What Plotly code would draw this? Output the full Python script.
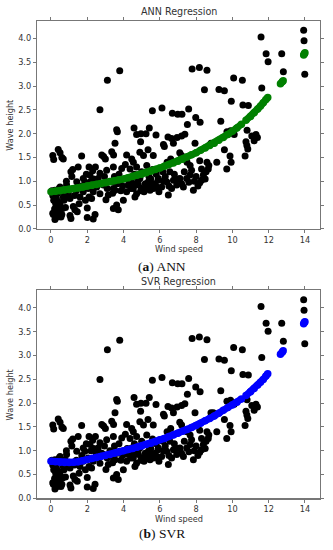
import plotly.graph_objects as go

# ---- observed data (wind speed, wave height) ----
wind_speed = [
    2.70, 3.11, 3.79, 3.62, 4.58, 4.72, 4.96, 5.24, 5.42, 5.79, 5.59, 6.12, 6.69, 6.99, 7.22, 7.59, 7.52, 7.98, 8.22,
    7.78, 8.18, 8.60, 8.46, 9.26, 9.56, 9.36, 9.94, 10.07, 10.55, 10.58, 10.88, 10.81, 11.58, 11.86, 11.97, 11.62,
    12.72, 12.81, 13.93, 13.95, 13.99,
    6.45, 6.65, 6.95, 7.20, 7.38, 9.70, 9.90, 10.10, 11.07, 11.30, 11.38, 11.20, 10.75, 10.80, 10.85, 10.70,
    3.66, 3.53, 4.94, 6.20, 6.25, 6.75, 7.94, 8.82, 8.95, 9.56, 9.87, 9.93, 9.69, 9.14, 0.10, 0.15, 0.40, 0.50, 0.60,
    0.68, 1.69, 2.80, 2.90, 3.00, 3.35, 3.45, 4.17, 4.45, 4.54, 4.90, 5.10, 5.35, 5.64, 6.40, 6.60, 7.10, 7.20, 7.50,
    7.67, 7.75, 8.20, 8.30, 8.60, 8.70, 6.16,
    0.05, 0.10, 0.13, 0.20, 0.22, 0.25, 0.31, 0.35, 0.40, 0.40, 0.45, 0.50, 0.50, 0.55, 0.60, 0.64, 0.68, 0.72, 0.77,
    0.80, 0.86, 0.90, 0.22, 0.15, 0.30, 0.28, 0.62, 0.85, 0.10, 0.35,
    0.96, 1.05, 1.05, 1.10, 1.10, 1.15, 1.20, 1.23, 1.30, 1.32, 1.40, 1.42, 1.45, 1.50, 1.55, 1.60, 1.70, 1.78, 1.78,
    1.87, 1.90, 1.95,
    2.00, 2.00, 2.05, 2.10, 2.10, 2.15, 2.20, 2.24, 2.30, 2.33, 2.33, 2.35, 2.43, 2.45, 2.50, 2.52, 2.60, 2.70, 2.70,
    2.80, 2.89, 2.95,
    3.03, 3.07, 3.10, 3.16, 3.25, 3.35, 3.40, 3.44, 3.44, 3.44, 3.50, 3.53, 3.62, 3.65, 3.71, 3.75, 3.80, 3.85, 3.90,
    3.95, 3.99,
    4.10, 4.17, 4.20, 4.26, 4.36, 4.40, 4.45, 4.50, 4.54, 4.60, 4.63, 4.72, 4.72, 4.80, 4.82, 4.90, 4.95, 5.00, 5.00,
    5.13, 5.20, 5.28, 5.28, 5.37, 5.40, 5.46, 5.50, 5.55, 5.60, 5.65, 5.74, 5.80, 5.83, 5.90, 5.92, 5.95,
    6.10, 6.20, 6.30, 6.38, 6.47, 6.50, 6.55, 6.65, 6.75, 6.80, 6.93, 7.00,
    7.11, 7.20, 7.30, 7.35, 7.48, 7.60, 7.67, 7.85, 7.90,
    8.00, 8.10, 8.20, 8.30, 8.40, 8.50, 8.67, 8.55,
]
wave_height = [
    2.50, 3.12, 3.32, 2.08, 2.12, 1.98, 2.00, 2.00, 2.12, 1.97, 2.48, 2.54, 2.43, 2.41, 2.41, 2.52, 2.19, 2.34, 2.24,
    3.36, 3.39, 3.33, 2.92, 2.93, 2.90, 2.26, 2.68, 3.17, 3.12, 2.60, 2.59, 2.07, 4.03, 3.68, 3.51, 2.96,
    3.68, 3.30, 4.17, 3.95, 3.25,
    1.93, 1.90, 1.92, 1.95, 1.99, 2.04, 2.06, 1.98, 1.95, 1.98, 1.92, 1.85, 1.83, 1.75, 1.68, 1.53,
    2.04, 1.80, 1.83, 1.77, 1.73, 1.80, 1.80, 1.80, 1.80, 1.66, 1.53, 1.40, 1.26, 1.40, 1.54, 1.46, 1.67, 1.60, 1.50,
    1.47, 1.53, 1.55, 1.52, 1.47, 1.62, 1.55, 1.55, 1.47, 1.40, 1.61, 1.54, 1.66, 1.54, 1.40, 1.47, 1.60, 1.54, 1.40,
    1.33, 1.23, 1.43, 1.26, 1.40, 1.33, 1.20,
    0.80, 0.70, 0.30, 0.42, 0.20, 0.55, 0.36, 0.75, 0.40, 0.57, 0.85, 0.50, 0.88, 0.25, 0.30, 0.43, 0.67, 0.60, 0.81,
    0.45, 0.92, 0.70, 0.81, 0.60, 0.65, 0.48, 0.78, 1.00, 0.33, 0.25,
    0.74, 0.64, 0.28, 0.22, 1.20, 1.10, 1.25, 0.47, 0.70, 0.40, 0.80, 0.99, 0.36, 1.30, 0.53, 0.67, 0.90, 0.78, 1.06,
    0.99, 0.60, 1.15,
    0.44, 0.24, 0.85, 0.67, 1.30, 1.13, 1.00, 0.64, 1.22, 0.21, 0.78, 1.05, 0.30, 1.30, 0.95, 0.88, 1.06, 0.74, 1.17,
    0.95, 0.92, 1.10,
    0.61, 1.23, 0.85, 0.71, 1.00, 0.99, 0.75, 0.85, 0.43, 1.30, 1.10, 0.81, 0.50, 0.95, 0.40, 1.15, 0.99, 0.80, 1.27,
    0.90, 0.60,
    1.35, 0.78, 1.05, 0.92, 1.26, 0.85, 1.06, 0.95, 0.85, 1.15, 0.67, 0.74, 1.30, 1.00, 0.92, 1.06, 0.80, 0.85, 1.20,
    0.78, 0.95, 0.88, 1.33, 0.99, 1.10, 0.81, 1.05, 0.92, 1.25, 0.85, 0.95, 1.15, 0.88, 1.02, 1.06, 0.78,
    0.88, 1.00, 1.10, 0.99, 0.71, 0.90, 1.20, 0.85, 1.02, 1.15, 0.92, 1.05,
    1.06, 0.95, 0.88, 1.20, 1.06, 0.98, 1.13, 0.81, 1.00,
    1.10, 0.90, 0.97, 1.02, 1.13, 1.05, 1.26, 1.20,
]

# ---- model predictions; None separates the sparse end points ----
ann_x = [0.00, 0.25, 0.50, 0.75, 1.00, 1.25, 1.50, 1.75, 2.00, 2.25, 2.50, 2.75, 3.00, 3.25, 3.50, 3.75, 4.00,
         4.25, 4.50, 4.75, 5.00, 5.25, 5.50, 5.75, 6.00, 6.25, 6.50, 6.75, 7.00, 7.25, 7.50, 7.75, 8.00, 8.25,
         8.50, 8.75, 9.00, 9.25, 9.50, 9.75, 10.00, 10.25, 10.50, None, 10.75, 11.00, 11.20, 11.40, 11.55, 11.70,
         11.85, 11.95, None, 12.65, 12.75, 12.80, None, 13.93, 13.97, 14.00]
ann_y = [0.78, 0.79, 0.80, 0.815, 0.83, 0.845, 0.86, 0.88, 0.90, 0.915, 0.93, 0.95, 0.97, 0.99, 1.01, 1.03, 1.05,
         1.075, 1.10, 1.125, 1.15, 1.18, 1.21, 1.245, 1.28, 1.315, 1.35, 1.385, 1.42, 1.465, 1.51, 1.555, 1.60,
         1.65, 1.70, 1.75, 1.80, 1.86, 1.92, 1.985, 2.05, 2.12, 2.20, None, 2.28, 2.36, 2.44, 2.52, 2.58, 2.65, 2.72,
         2.76, None, 3.05, 3.09, 3.11, None, 3.65, 3.68, 3.70]

svr_x = ann_x
svr_y = [0.78, 0.77, 0.76, 0.755, 0.755, 0.76, 0.77, 0.79, 0.82, 0.84, 0.86, 0.88, 0.90, 0.925, 0.95, 0.975, 1.00,
         1.025, 1.05, 1.075, 1.10, 1.13, 1.16, 1.19, 1.23, 1.26, 1.30, 1.33, 1.37, 1.41, 1.45, 1.49, 1.53, 1.58,
         1.63, 1.68, 1.73, 1.79, 1.85, 1.91, 1.96, 2.02, 2.09, None, 2.16, 2.24, 2.31, 2.38, 2.44, 2.50, 2.57, 2.62,
         None, 3.03, 3.07, 3.10, None, 3.67, 3.70, 3.71]

x_ticks = [0, 2, 4, 6, 8, 10, 12, 14]
y_ticks = [0.0, 0.5, 1.0, 1.5, 2.0, 2.5, 3.0, 3.5, 4.0]

W, H = 333, 550
TXT = "#333333"
FRAME = "#777777"
FONT = "DejaVu Sans"


def fy(p):
    return 1 - p / H


def fx(p):
    return p / W


fig = go.Figure()

panels = [
    ("x", "y", ann_x, ann_y, "#008000"),
    ("x2", "y2", svr_x, svr_y, "#0000ff"),
]
for xa, ya, px, pyv, col in panels:
    fig.add_trace(go.Scatter(x=wind_speed, y=wave_height, mode="markers", xaxis=xa, yaxis=ya,
                             marker=dict(color="black", size=7, line=dict(width=0)), showlegend=False,
                             cliponaxis=False))
    fig.add_trace(go.Scatter(x=px, y=pyv, mode="lines+markers", xaxis=xa, yaxis=ya,
                             line=dict(color=col, width=7), connectgaps=False,
                             marker=dict(color=col, size=7.5, line=dict(width=0)), showlegend=False,
                             cliponaxis=False))

xcommon = dict(range=[-0.77, 14.83], tickvals=x_ticks, ticktext=[str(v) for v in x_ticks],
               showgrid=False, zeroline=False, showline=True, mirror="all", linecolor=FRAME, linewidth=1.2,
               ticks="outside", ticklen=3, tickcolor=FRAME, tickfont=dict(family=FONT, size=8.2, color=TXT))
ycommon = dict(range=[0.0, 4.37], tickvals=y_ticks, ticktext=[f"{v:.1f}" for v in y_ticks],
               showgrid=False, zeroline=False, showline=True, mirror="all", linecolor=FRAME, linewidth=1.2,
               ticks="outside", ticklen=3, tickcolor=FRAME, tickfont=dict(family=FONT, size=8.2, color=TXT))

fig.update_layout(
    width=W, height=H, autosize=False,
    margin=dict(l=0, r=0, t=0, b=0),
    paper_bgcolor="white", plot_bgcolor="white",
    xaxis=dict(domain=[fx(37), fx(320)], anchor="y", **xcommon),
    yaxis=dict(domain=[fy(231), fy(21)], anchor="x", **ycommon),
    xaxis2=dict(domain=[fx(37), fx(320)], anchor="y2", **xcommon),
    yaxis2=dict(domain=[fy(503), fy(293)], anchor="x2", **ycommon),
)

cx = fx((37 + 320) / 2)
annots = [
    ("ANN Regression", cx, fy(12), 9.6, FONT, 0),
    ("Wind speed", cx, fy(251.5), 8.2, FONT, 0),
    ("Wave height", fx(10), fy(126), 8.2, FONT, -90),
    ("(<b>a</b>) ANN", fx(162), fy(268.5), 13.5, "Liberation Serif", 0),
    ("SVR Regression", cx, fy(284), 9.6, FONT, 0),
    ("Wind speed", cx, fy(523.5), 8.2, FONT, 0),
    ("Wave height", fx(10), fy(398), 8.2, FONT, -90),
    ("(<b>b</b>) SVR", fx(162), fy(538), 13.5, "Liberation Serif", 0),
]
for text, x, y, size, fam, ang in annots:
    fig.add_annotation(text=text, x=x, y=y, xref="paper", yref="paper", showarrow=False,
                       xanchor="center", yanchor="middle", textangle=ang, borderpad=0,
                       font=dict(family=fam, size=size, color=TXT if fam == FONT else "#111111"))

fig.write_html("out.html", config={"displayModeBar": False, "staticPlot": True},
               post_script="document.body.style.margin='0';document.body.style.padding='0';"
                           "document.documentElement.style.overflow='hidden';")
